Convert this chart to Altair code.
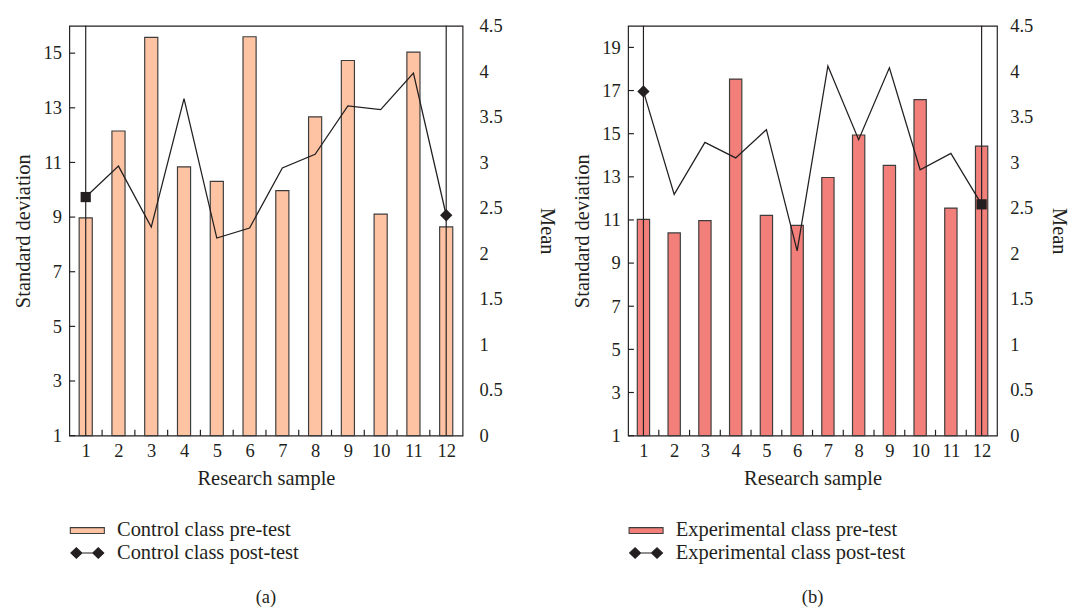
import altair as alt
import pandas as pd

samples = list(range(1, 13))
control_pre = [8.97, 12.15, 15.58, 10.84, 10.31, 15.6, 9.97, 12.67, 14.73, 9.11, 15.04, 8.64]
control_post = [2.62, 2.96, 2.29, 3.70, 2.17, 2.28, 2.94, 3.09, 3.62, 3.58, 3.98, 2.42]
exp_pre = [11.03, 10.40, 10.97, 17.53, 11.21, 10.75, 12.97, 14.94, 13.53, 16.58, 11.55, 14.42]
exp_post = [3.78, 2.65, 3.22, 3.05, 3.36, 2.03, 4.06, 3.25, 4.04, 2.92, 3.10, 2.54]

sd_ticks_a = [1, 3, 5, 7, 9, 11, 13, 15]
sd_ticks_b = [1, 3, 5, 7, 9, 11, 13, 15, 17, 19]
mean_ticks = [0, 0.5, 1, 1.5, 2, 2.5, 3, 3.5, 4, 4.5]
half_ticks = [1.5, 2.5, 3.5, 4.5, 5.5, 6.5, 7.5, 8.5, 9.5, 10.5, 11.5]

FONT = "Liberation Serif"
INK = "#231f20"
RECT_PATH = "M-2.33,-0.4H2.33V0.4H-2.33Z"
LINE_PATH = ("M-1.5,0H1.5 M-2.25,0L-1.5,-0.72L-0.75,0L-1.5,0.72Z "
             "M0.75,0L1.5,-0.72L2.25,0L1.5,0.72Z")

H = 421


def panel(pre, post, pre_name, post_name, color, sd_max, sd_values, width,
          first_shape, last_shape, caption, mean_label_pad, mean_title_pad):
    df = pd.DataFrame({"sample": samples, "pre": pre, "post": post})
    xscale = alt.Scale(domain=[0.5, 12.5], nice=False, zero=False)
    sd_scale = alt.Scale(domain=[1, sd_max], nice=False, zero=False)
    mean_scale = alt.Scale(domain=[0, 4.5], nice=False, zero=False)
    base = alt.Chart(df)

    bars = base.transform_calculate(
        x0="datum.sample - 0.2", x1="datum.sample + 0.2"
    ).mark_bar(fill=color, stroke="#3d3d3d", strokeWidth=1.2).encode(
        x=alt.X("x0:Q", scale=xscale,
                axis=alt.Axis(values=samples, title="Research sample", tickSize=0,
                              domain=False, grid=False, labelPadding=6,
                              titlePadding=8, labelFontSize=19, titleFontSize=21)),
        x2="x1:Q",
        y=alt.Y("pre:Q", scale=sd_scale,
                axis=alt.Axis(orient="left", values=sd_values, title="Standard deviation",
                              tickSize=0, domain=False, grid=False, labelPadding=8,
                              titlePadding=10, labelFontSize=19, titleFontSize=21)),
        y2=alt.datum(1),
    )

    xticks = alt.Chart(pd.DataFrame({"t": half_ticks})).mark_tick(
        orient="vertical", size=6, thickness=1.2, color=INK, yOffset=-3, opacity=1
    ).encode(
        x=alt.X("t:Q", scale=xscale, axis=None),
        y=alt.YDatum(1, scale=sd_scale, axis=None),
    )
    yticks = alt.Chart(pd.DataFrame({"v": sd_values})).mark_tick(
        orient="horizontal", size=6, thickness=1.2, color=INK, xOffset=3, opacity=1
    ).encode(
        x=alt.XDatum(0.5, scale=xscale, axis=None),
        y=alt.Y("v:Q", scale=sd_scale, axis=None),
    )

    rules = base.transform_filter("datum.sample == 1 || datum.sample == 12").mark_rule(
        color=INK, strokeWidth=1.2
    ).encode(x=alt.X("sample:Q", scale=xscale, axis=None))

    line = base.mark_line(color=INK, strokeWidth=1.3).encode(
        x=alt.X("sample:Q", scale=xscale, axis=None),
        y=alt.Y("post:Q", scale=mean_scale,
                axis=alt.Axis(orient="right", values=mean_ticks, format="~g",
                              title="Mean", tickSize=0, domain=False, grid=False,
                              labelPadding=mean_label_pad, titlePadding=mean_title_pad,
                              labelFontSize=19, titleFontSize=21)),
    )
    m1 = base.transform_filter("datum.sample == 1").mark_point(
        shape=first_shape, filled=True, size=110 if first_shape == "square" else 160,
        color=INK, opacity=1
    ).encode(x=alt.X("sample:Q", scale=xscale, axis=None),
             y=alt.Y("post:Q", scale=mean_scale, axis=None))
    m2 = base.transform_filter("datum.sample == 12").mark_point(
        shape=last_shape, filled=True, size=110 if last_shape == "square" else 160,
        color=INK, opacity=1
    ).encode(x=alt.X("sample:Q", scale=xscale, axis=None),
             y=alt.Y("post:Q", scale=mean_scale, axis=None))

    leg = alt.Legend(title=None, orient="bottom", direction="vertical",
                     symbolSize=225, symbolOpacity=1, symbolStrokeWidth=1.1,
                     labelFont=FONT, labelFontSize=21,
                     labelColor=INK, labelLimit=0, labelOffset=20, rowPadding=1,
                     offset=25, padding=8)
    dummy = pd.DataFrame({"series": [pre_name, post_name], "sample": [1, 1]})
    decor = alt.Chart(dummy).transform_filter("datum.sample > 100").mark_point(
        filled=True, opacity=1, strokeWidth=1.1
    ).encode(
        shape=alt.Shape("series:N",
                        scale=alt.Scale(domain=[pre_name, post_name],
                                        range=[RECT_PATH, LINE_PATH]),
                        legend=leg),
        fill=alt.Fill("series:N",
                      scale=alt.Scale(domain=[pre_name, post_name], range=[color, INK]),
                      legend=leg),
        stroke=alt.Stroke("series:N",
                          scale=alt.Scale(domain=[pre_name, post_name],
                                          range=["#3d3d3d", INK]),
                          legend=leg),
    )

    return alt.layer(bars, xticks, yticks, rules, line, m1, m2, decor).resolve_scale(
        y="independent"
    ).resolve_axis(x="independent", y="independent").properties(
        width=width, height=H,
        title=alt.TitleParams(caption, orient="bottom", anchor="middle", font=FONT,
                              fontSize=19, fontWeight="normal", color=INK, offset=18),
    )


left = panel(control_pre, control_post, "Control class pre-test",
             "Control class post-test", "#FDC3A2", 16, sd_ticks_a, 404,
             "square", "diamond", "(a)", 17, 35)
right = panel(exp_pre, exp_post, "Experimental class pre-test",
              "Experimental class post-test", "#F27F79", 20, sd_ticks_b, 379,
              "diamond", "square", "(b)", 13, 16)

chart = alt.hconcat(left, right, spacing=13).resolve_scale(
    x="independent", y="independent", fill="independent", shape="independent",
    stroke="independent"
).resolve_legend(fill="independent", shape="independent", stroke="independent").properties(
    padding={"left": 4, "top": 0, "right": 0, "bottom": 2},
    background="white",
).configure_view(stroke=INK, strokeWidth=1.2).configure_axis(
    labelFont=FONT, titleFont=FONT, labelColor=INK, titleColor=INK,
    titleFontWeight="normal"
)

chart.save("out.html", embed_options={"renderer": "svg", "actions": False})
